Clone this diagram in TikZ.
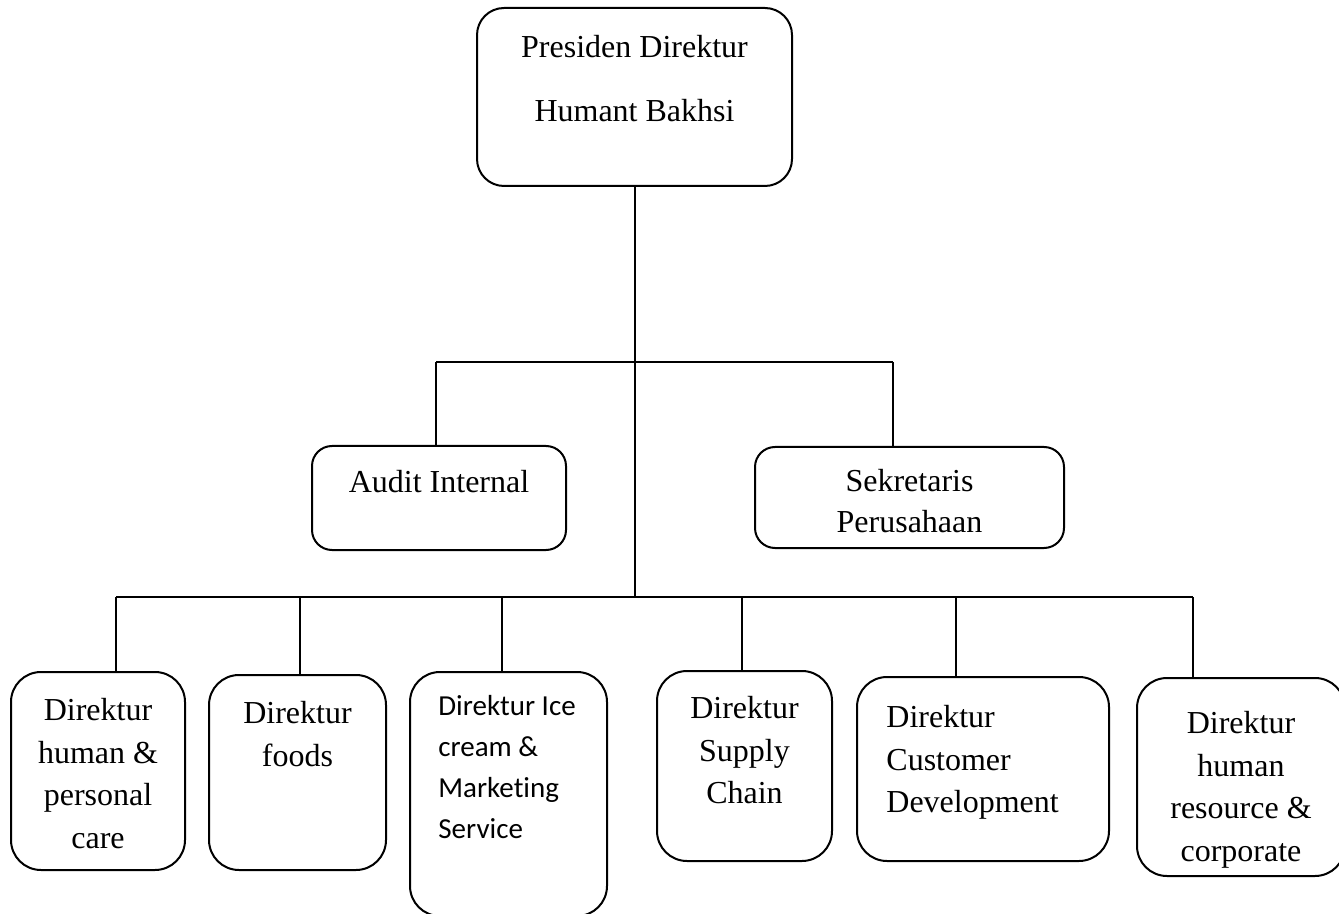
\documentclass[tikz,border=0pt]{standalone}
\usepackage{fontspec}
\setmainfont{Liberation Serif}
\newfontfamily\calibri[Ligatures=NoCommon]{Carlito}
\usetikzlibrary{positioning}
\tikzset{
    orgbox/.style={draw, line width=1pt, rounded corners=15pt, inner sep=0pt},
    orgtext/.style={align=center, inner sep=0pt, font=\fontsize{16}{21.25}\selectfont},
    orgsans/.style={align=left, inner sep=0pt, font=\calibri\fontsize{14.5}{20.5}\selectfont},
    orgline/.style={line width=1pt}
}

\begin{document}
\begin{tikzpicture}[x=0.5pt,y=-0.5pt]
            \useasboundingbox (0,0) rectangle (1339,914);
            % top
            \node[orgbox, rounded corners=13.5pt, minimum width=157.5pt, minimum height=89pt] (pd) at (634.5,97) {};
            \node[orgtext, font=\fontsize{16}{32}\selectfont, below=14pt of pd.north] (pdlbl) {Presiden Direktur\\Humant Bakhsi};
            % staff
            \node[orgbox, rounded corners=10pt, minimum width=127pt, minimum height=52pt] (audit) at (439,498) {};
            \node[orgtext, below=12.5pt of audit.north] (auditlbl) {Audit Internal};
            \node[orgbox, rounded corners=10pt, minimum width=154.5pt, minimum height=50.5pt] (sekr) at (909.5,497.5) {};
            \node[orgtext, font=\fontsize{16}{20.5}\selectfont, below=11.5pt of sekr.north] (sekrlbl) {Sekretaris\\Perusahaan};
            % direktur
            \node[orgbox, minimum width=87pt, minimum height=99pt] (dhpc) at (98,771) {};
            \node[orgtext, below=13.5pt of dhpc.north] (dhpclbl) {Direktur\\human \&\\personal\\care};
            \node[orgbox, minimum width=88.5pt, minimum height=97.5pt] (dfoods) at (297.5,772.5) {};
            \node[orgtext, below=13.5pt of dfoods.north] (dfoodslbl) {Direktur\\foods};
            \node[orgbox, minimum width=98.5pt, minimum height=122pt] (dice) at (508.5,794) {};
            \node[orgsans, below right=12pt and 14.5pt of dice.north west] (dicelbl) {Direktur Ice\\cream \&\\Marketing\\Service};
            \node[orgbox, minimum width=87.5pt, minimum height=95pt] (dsupply) at (744.5,766) {};
            \node[orgtext, below=13pt of dsupply.north] (dsupplylbl) {Direktur\\Supply\\Chain};
            \node[orgbox, minimum width=126pt, minimum height=92pt] (dcust) at (983,769) {};
            \node[orgtext, align=left, below right=14.5pt and 15pt of dcust.north west] (dcustlbl) {Direktur\\Customer\\Development};
            \node[orgbox, minimum width=104pt, minimum height=99pt] (dhrc) at (1241,777) {};
            \node[orgtext, below=17pt of dhrc.north] (dhrclbl) {Direktur\\human\\resource \&\\corporate};
            % lines
            \coordinate (bar) at (634.5,597);
            \coordinate (al) at (436,362);
            \coordinate (sr) at (893,362);
            \draw[orgline] (pd.south) -- (bar);
            \draw[orgline] (al) -- (sr);
            \draw[orgline] (al) -- (al |- audit.north);
            \draw[orgline] (sr) -- (sr |- sekr.north);
            \foreach \name/\x [count=\i] in {dhpc/116, dfoods/300, dice/502, dsupply/742, dcust/956, dhrc/1193}{
                \coordinate (d\i) at (\x,597);
                \draw[orgline] (d\i) -- (d\i |- \name.north);
            }
            \draw[orgline] (d1) -- (d6);
\end{tikzpicture}
\end{document}
